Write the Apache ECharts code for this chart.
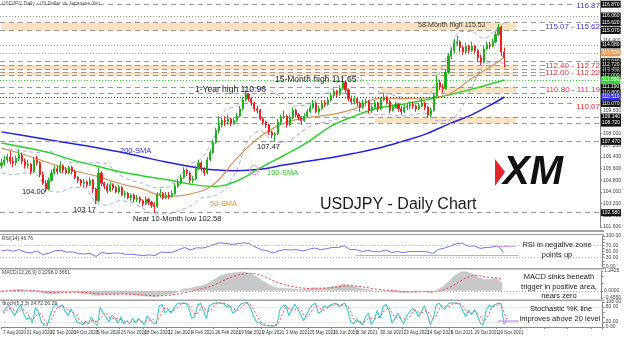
<!DOCTYPE html>
<html><head><meta charset="utf-8">
<script src="https://cdn.jsdelivr.net/npm/echarts@6/dist/echarts.min.js"></script>
<style>html,body{margin:0;padding:0;background:#fff}#c{width:624px;height:338px}</style>
</head><body><div id="c"></div>
<script>
// ---------- DATA (2-trading-day candles, 7 Aug 2020 -> 30 Nov 2021) ----------
const firstOpen = 105.8;
const closes = [
106.0,106.2,106.4,106.1,106.0,106.3,106.5,106.1,105.8,105.9,
105.4,106.2,106.0,105.2,104.6,104.2,104.8,105.3,105.6,105.4,
105.8,105.5,105.3,105.7,105.4,105.0,104.8,104.6,104.7,104.5,
104.8,104.2,103.4,105.3,104.6,104.4,104.1,104.5,104.3,104.0,
104.3,103.8,103.9,103.6,103.8,103.5,103.6,103.4,103.2,103.5,
103.3,103.1,103.0,103.8,103.9,103.6,103.8,103.7,103.9,104.4,
104.6,105.0,105.5,105.3,104.8,104.9,105.6,106.0,105.6,105.3,
106.2,106.7,107.4,108.2,108.6,108.9,108.8,109.0,108.7,108.9,
109.2,109.7,110.3,110.7,110.4,110.1,109.7,109.6,109.0,108.8,
108.6,108.1,107.9,108.0,108.8,109.1,109.2,108.6,109.1,109.6,
109.3,109.1,108.9,109.2,109.5,109.8,110.1,109.5,109.7,110.1,
110.0,110.3,110.6,110.9,110.7,111.1,111.5,111.0,110.4,110.2,
110.4,110.1,109.8,110.1,110.2,109.6,109.8,110.1,109.7,110.3,
110.5,110.2,109.6,109.8,110.0,109.7,109.5,109.8,109.9,110.0,
109.9,109.7,109.9,110.1,109.8,109.3,109.6,110.6,111.5,111.2,
111.1,112.2,113.3,113.7,114.2,114.3,113.9,113.6,114.0,113.7,
114.0,113.7,113.2,112.9,113.8,114.1,114.0,114.3,114.8,115.3,
113.6,113.2];
const highs = [
106.3,106.5,106.6,106.8,106.4,106.5,106.9,106.7,106.3,106.2,
106.0,106.4,106.5,106.1,105.4,104.8,105.0,105.5,105.8,105.8,
106.1,105.9,105.7,105.8,105.8,105.5,105.1,104.9,104.9,104.8,
105.0,104.9,104.3,105.65,105.4,104.7,104.6,104.7,104.6,104.4,
104.5,104.4,104.1,104.0,103.9,103.9,103.8,103.7,103.5,103.7,
103.6,103.4,103.3,104.0,104.2,104.0,104.0,104.0,104.1,104.6,
104.9,105.2,105.7,105.6,105.4,105.1,105.8,106.2,106.1,105.7,
106.4,106.9,107.6,108.4,109.2,109.1,109.2,109.3,109.1,109.1,
109.4,109.9,110.5,110.96,110.8,110.5,110.2,109.9,109.7,109.1,
108.9,108.7,108.2,108.1,109.0,109.3,109.6,109.3,109.3,109.8,
109.7,109.4,109.2,109.4,109.7,110.0,110.3,110.2,109.9,110.3,
110.3,110.5,110.8,111.1,111.0,111.3,111.65,111.6,111.1,110.6,
110.6,110.5,110.2,110.3,110.4,110.3,110.0,110.3,110.2,110.5,
110.8,110.6,110.3,110.0,110.2,110.1,109.9,110.0,110.1,110.2,
110.2,110.0,110.1,110.4,110.2,109.9,109.8,110.8,112.0,111.7,
111.4,112.4,113.5,113.9,114.5,114.7,114.4,114.0,114.2,114.1,
114.3,114.1,113.8,113.4,114.0,114.3,114.3,114.5,115.0,115.52,
115.4,113.9];
const lows = [
105.6,105.8,106.0,105.9,105.7,105.8,106.1,105.9,105.6,105.6,
105.2,105.3,105.8,105.0,104.5,104.0,104.1,104.7,105.2,105.2,
105.3,105.3,105.2,105.2,105.2,104.9,104.6,104.4,104.3,104.3,
104.4,103.9,103.17,103.3,104.4,104.2,103.9,104.0,104.1,103.9,
103.9,103.7,103.6,103.5,103.4,103.3,103.3,103.2,103.0,103.1,
103.1,102.9,102.58,102.9,103.6,103.5,103.5,103.5,103.6,103.8,
104.3,104.5,104.9,105.1,104.6,104.6,104.8,105.5,105.4,105.1,
105.2,106.1,106.6,107.3,108.0,108.4,108.5,108.6,108.5,108.6,
108.8,109.1,109.6,110.2,110.2,109.9,109.5,109.4,108.9,108.6,
108.4,107.9,107.7,107.47,107.9,108.6,109.0,108.4,108.5,109.0,
109.1,108.9,108.6,108.8,109.1,109.4,109.7,109.4,109.3,109.6,
109.8,109.9,110.2,110.5,110.5,110.6,111.0,110.8,110.2,110.0,
110.0,109.9,109.5,109.7,109.9,109.4,109.4,109.7,109.5,109.6,
110.2,110.0,109.4,109.5,109.7,109.5,109.3,109.4,109.6,109.7,
109.7,109.5,109.6,109.8,109.6,109.1,109.1,109.5,110.5,111.0,
110.8,111.0,112.1,113.1,113.5,114.0,113.6,113.4,113.5,113.5,
113.6,113.5,112.9,112.7,112.8,113.7,113.8,113.9,114.2,114.7,
113.3,112.55];

const dateLabels = ['7 Aug 2020','31 Aug 2020','22 Sep 2020','14 Oct 2020','5 Nov 2020','26 Nov 2020',
 '18 Dec 2020','12 Jan 2021','4 Feb 2021','26 Feb 2021','19 Mar 2021','9 Apr 2021','3 May 2021',
 '25 May 2021','16 Jun 2021','8 Jul 2021','30 Jul 2021','23 Aug 2021','14 Sep 2021','6 Oct 2021',
 '29 Oct 2021','19 Nov 2021'];

const smaBars = [0,8,16,24,32,40,48,56,64,72,80,88,96,104,112,120,128,136,144,152,160,168,171];
const sma50  = [107.0,106.55,106.0,105.5,105.1,104.6,104.2,103.7,103.85,104.5,106.3,107.8,108.7,109.1,109.3,109.7,110.4,110.4,110.45,110.7,111.8,112.8,113.25];
const sma100 = [107.36,107.05,106.7,106.2,105.8,105.4,105.1,104.85,104.55,104.37,104.75,105.65,106.5,107.4,108.5,109.2,109.75,110.0,110.3,110.65,111.05,111.5,111.68];
const sma200 = [108.12,107.85,107.58,107.32,107.05,106.75,106.4,106.05,105.75,105.52,105.45,105.55,105.85,106.1,106.35,106.65,107.0,107.45,107.95,108.65,109.3,110.15,110.51];

const bbBars = [0,4,8,12,16,20,24,28,32,36,40,44,48,52,56,60,64,68,72,76,80,84,88,92,96,100,104,108,112,116,120,124,128,132,136,140,144,148,152,156,160,164,168,171];
const bbUpper = [107.0,106.9,106.8,106.7,106.8,106.4,106.0,106.0,106.0,105.9,105.2,104.8,104.6,104.3,104.3,105.0,105.9,106.3,107.6,109.6,109.9,110.9,111.1,110.9,110.4,109.9,110.0,110.4,111.0,111.8,111.9,111.5,110.9,110.7,110.5,110.4,110.3,111.8,113.5,115.0,115.0,114.5,115.1,115.6];
const bbLower = [105.3,105.2,105.3,105.2,104.1,104.0,104.3,104.3,103.3,103.1,103.4,103.3,102.9,102.5,102.5,102.7,103.0,103.6,103.7,104.2,105.5,107.6,108.2,107.5,107.4,107.8,108.4,108.7,108.9,109.1,109.6,109.4,109.3,109.3,109.2,109.3,109.4,108.9,108.9,109.6,111.2,112.7,112.9,112.8];

// indicators sampled every 2 candles
const rsi = [52,55,51,56,48,45,52,40,44,52, 54,48,49,43,42,44,34,47,43,45, 45,41,41,39,37,39,37,48,47,48,
 56,63,55,62,61,66,73,78,76,73, 75,78,75,64,56,52,45,53,56,55, 56,52,57,61,56,59,63,63,68,56,
 56,50,53,50,49,55,47,50,46,50, 50,50,49,44,57,61,68,75,77,67, 68,60,63,64,68,47];
const macdHist = [-0.05,0.02,0.05,0.08,0.03,-0.05,-0.02,-0.15,-0.22,-0.18,
 -0.10,-0.05,-0.05,-0.10,-0.18,-0.20,-0.32,-0.25,-0.25,-0.22,
 -0.20,-0.22,-0.25,-0.28,-0.33,-0.35,-0.38,-0.30,-0.25,-0.20,
 -0.05,0.12,0.15,0.25,0.32,0.45,0.68,0.92,1.05,1.10,
 1.15,1.18,1.12,0.95,0.70,0.48,0.25,0.18,0.15,0.12,
 0.10,0.08,0.12,0.18,0.15,0.18,0.25,0.32,0.42,0.35,
 0.25,0.15,0.10,0.02,-0.05,0.02,-0.05,-0.08,-0.12,-0.10,
 -0.08,-0.05,-0.04,-0.12,0.05,0.30,0.62,0.98,1.20,1.18,
 1.05,0.82,0.70,0.72,0.80,0.45];
const macdSignal = [-0.02,-0.01,0.01,0.03,0.04,0.02,0.0,-0.04,-0.09,-0.13,
 -0.13,-0.11,-0.09,-0.09,-0.11,-0.14,-0.19,-0.21,-0.22,-0.22,
 -0.21,-0.21,-0.22,-0.24,-0.26,-0.29,-0.32,-0.32,-0.30,-0.27,
 -0.20,-0.12,-0.05,0.03,0.12,0.22,0.35,0.52,0.70,0.85,
 0.97,1.06,1.10,1.07,0.97,0.83,0.65,0.50,0.38,0.29,
 0.22,0.17,0.15,0.16,0.16,0.17,0.19,0.23,0.29,0.32,
 0.30,0.26,0.20,0.14,0.08,0.05,0.02,-0.01,-0.05,-0.07,
 -0.08,-0.07,-0.06,-0.07,-0.04,0.05,0.20,0.40,0.64,0.84,
 0.95,0.95,0.88,0.83,0.82,0.70];
// stochastic per candle
const stochK = [60,75,88,62,45,70,88,55,30,38, 15,78,62,20,8,6,45,78,92,75, 90,65,45,72,50,22,15,10,22,15,
 40,18,5,80,55,40,20,48,35,15, 40,12,25,12,35,15,35,20,10,45, 30,15,12,85,90,55,70,55,75,92,
 95,96,95,78,35,40,85,95,65,35, 85,92,96,97,95,92,80,85,55,65, 82,94,97,96,75,45,20,18,8,6,
 5,4,4,12,70,85,88,45,70,92, 72,50,25,50,72,88,95,55,62,85, 78,88,92,95,80,90,95,65,20,12,
 30,20,8,40,55,10,30,65,35,82, 90,65,15,35,55,30,12,45,62,75, 65,40,62,85,50,10,35,88,95,78,
 70,92,97,96,95,92,65,42,68,50, 70,45,15,8,70,88,80,90,95,92, 12,25];
const stochD = [55,62,74,75,65,59,68,71,58,41, 28,44,52,53,30,11,20,43,72,82, 86,77,67,61,56,48,29,16,16,16,
 26,24,21,34,47,58,38,36,34,33, 30,22,26,16,24,21,28,23,22,25, 28,30,19,37,62,77,72,60,67,74,
 87,94,95,90,69,51,53,73,82,65, 62,71,91,95,96,95,89,86,73,68, 67,80,91,96,89,72,47,28,15,11,
 6,5,4,7,29,56,81,73,68,69, 78,71,49,42,49,70,85,79,71,67, 75,84,86,92,89,88,88,83,60,32,
 21,21,19,23,34,35,32,35,43,61, 69,79,57,38,35,40,32,29,40,61, 67,60,56,62,66,48,32,44,73,87,
 81,80,86,95,96,94,84,66,58,53, 63,55,43,23,31,55,79,86,88,94, 60,30];

const dashedLevels = [116.87,115.62,115.07,112.93,112.72,112.40,112.22,112.00,111.19,110.80,110.07,109.14,108.72,107.47,102.58];
const dottedLevels = [116.06,114.08];
const smaLevels = [113.53,111.68,110.51];
const zoneLow  = [115.07,112.40,112.00,110.80,108.72];
const zoneHigh = [115.62,112.72,112.22,111.19,109.14];
const zoneFrom = [0,0,0,129,127];
const zoneTo = 175;
const rsiTrend = [[120,175,38],[168,174,68]];
const stochTrend = [[168,175,27]];
const crossMark = [86,105.5];

// ---------- CHART ----------
const FONT = 'Liberation Sans, Arial, sans-serif';
const NCAT = 204;
const cats = Array.from({length: NCAT}, (_, i) => String(i));
const candles = closes.map((c, i) => [i === 0 ? firstOpen : closes[i - 1], c, lows[i], highs[i]]);
const pairs = (bars, vals) => bars.map((b, j) => [String(b), vals[j]]);
const every2 = vals => vals.map((v, k) => [String(2 * k), v]);
const idxd = vals => vals.map((v, i) => [String(i), v]);

const GRAY = '#9a9a9a';
function lvl(v, color, type) {
  return { yAxis: v, lineStyle: { color: color, type: type, width: 1 },
    label: { show: true, position: 'end', distance: 1, formatter: () => v.toFixed(3),
      backgroundColor: color === GRAY ? '#111' : color, color: '#fff', fontSize: 5, padding: [1, 1], fontFamily: FONT } };
}
const smaColors = ['#e89a58', '#33d633', '#2f2fe8'];

const xAx = i => ({
  type: 'category', gridIndex: i, data: cats, boundaryGap: true,
  axisLine: { show: i === 3, lineStyle: { color: '#888' } },
  axisTick: { show: i === 3, interval: 7, length: 2, lineStyle: { color: '#888' } },
  axisLabel: i === 3 ? { show: true, interval: 7, fontSize: 4.5, color: '#333', margin: 3, align: 'left', fontFamily: FONT,
      formatter: (v, idx) => (idx % 8 === 0 && dateLabels[idx / 8]) ? dateLabels[idx / 8] : '' } : { show: false },
  splitLine: { show: false }
});
const yBase = (i, o) => Object.assign({
  type: 'value', gridIndex: i, position: 'right',
  axisLine: { show: true, lineStyle: { color: '#888' } },
  axisTick: { show: true, length: 2, lineStyle: { color: '#888' } },
  splitLine: { show: false }
}, o);
const lab = f => ({ fontSize: 5, color: '#444', margin: 3, fontFamily: FONT, formatter: f, showMaxLabel: true, showMinLabel: true });
const near = (a, b) => Math.abs(a - b) < 1e-6;

function txt(text, x, y, size, fill, align, extra) {
  return { type: 'text', x: x, y: y, silent: true, z: 100,
    style: Object.assign({ text: text, fill: fill, fontSize: size, fontFamily: FONT, align: align || 'left', verticalAlign: 'middle' }, extra || {}) };
}

const option = {
  animation: false,
  textStyle: { fontFamily: FONT },
  grid: [
    { left: 0, right: 20, top: 0, height: 227 },
    { left: 0, right: 20, top: 236, height: 31 },
    { left: 0, right: 20, top: 271, height: 27 },
    { left: 0, right: 20, top: 302, height: 25 }
  ],
  xAxis: [xAx(0), xAx(1), xAx(2), xAx(3)],
  yAxis: [
    yBase(0, { min: 101.6, max: 117.158, interval: 0.8, axisLabel: Object.assign(lab(v => v.toFixed(3)), { showMaxLabel: false }) }),
    yBase(1, { min: 0, max: 100, interval: 10, axisLabel: lab(v => [0, 30, 50, 70, 100].indexOf(v) >= 0 ? v.toFixed(2) : '') }),
    yBase(2, { min: -0.455, max: 1.2425, interval: 0.455, axisLabel: lab(v => (near(v, 0) || near(v, -0.455) || near(v, 1.2425)) ? v.toFixed(4) : '') }),
    yBase(3, { min: 0, max: 100, interval: 20, axisLabel: lab(v => [0, 20, 80, 100].indexOf(v) >= 0 ? v.toFixed(2) : '') })
  ],
  series: [
    { type: 'line', xAxisIndex: 0, yAxisIndex: 0, data: [], silent: true, z: 1,
      markArea: { silent: true, itemStyle: { color: '#fde1c1' },
        data: zoneLow.map((lo, j) => [{ xAxis: String(zoneFrom[j]), yAxis: lo }, { xAxis: String(zoneTo), yAxis: zoneHigh[j] }]) },
      markLine: { silent: true, symbol: 'none', animation: false,
        data: dashedLevels.map(v => lvl(v, GRAY, [5, 4]))
          .concat(dottedLevels.map(v => lvl(v, GRAY, [1, 2])))
          .concat(smaLevels.map((v, j) => lvl(v, smaColors[j], [1, 2]))) } },
    { type: 'line', xAxisIndex: 0, yAxisIndex: 0, data: pairs(bbBars, bbUpper), smooth: 0.3, symbol: 'none',
      lineStyle: { color: '#a9a9ef', width: 1, type: [4, 3] }, z: 2 },
    { type: 'line', xAxisIndex: 0, yAxisIndex: 0, data: pairs(bbBars, bbLower), smooth: 0.3, symbol: 'none',
      lineStyle: { color: '#a9a9ef', width: 1, type: [4, 3] }, z: 2 },
    { type: 'line', xAxisIndex: 0, yAxisIndex: 0, data: pairs(smaBars, sma200), smooth: 0.4, symbol: 'none',
      lineStyle: { color: '#2323d8', width: 1.5 }, z: 3 },
    { type: 'line', xAxisIndex: 0, yAxisIndex: 0, data: pairs(smaBars, sma100), smooth: 0.4, symbol: 'none',
      lineStyle: { color: '#2ed02e', width: 1.5 }, z: 3,
      markPoint: { silent: true, symbol: 'circle', symbolSize: 9, label: { show: false },
        itemStyle: { color: 'rgba(0,0,0,0)', borderColor: '#e38ae0', borderWidth: 1 },
        data: [{ coord: [String(crossMark[0]), crossMark[1]] }] } },
    { type: 'line', xAxisIndex: 0, yAxisIndex: 0, data: pairs(smaBars, sma50), smooth: 0.4, symbol: 'none',
      lineStyle: { color: '#d69456', width: 1.2 }, z: 3 },
    { type: 'candlestick', xAxisIndex: 0, yAxisIndex: 0, data: candles, barWidth: 1.6, z: 5,
      itemStyle: { color: '#1fae1f', color0: '#e52222', borderColor: '#1fae1f', borderColor0: '#e52222', borderWidth: 1 } },
    // RSI
    { type: 'line', xAxisIndex: 1, yAxisIndex: 1, data: every2(rsi), symbol: 'none',
      lineStyle: { color: '#7373ee', width: 1 },
      markLine: { silent: true, symbol: 'none', label: { show: false },
        data: [{ yAxis: 70, lineStyle: { color: '#c4c4c4', type: [1, 2], width: 1 } }, { yAxis: 30, lineStyle: { color: '#c4c4c4', type: [1, 2], width: 1 } }]
          .concat(rsiTrend.map(t => [{ coord: [String(t[0]), t[2]], lineStyle: { color: '#d99be8', width: 1, type: 'solid' } }, { coord: [String(t[1]), t[2]] }])) } },
    // MACD
    { type: 'line', xAxisIndex: 2, yAxisIndex: 2, data: every2(macdHist), symbol: 'none',
      lineStyle: { color: '#c4c4c4', width: 0.5 }, areaStyle: { color: '#c8c8c8', opacity: 1 },
      markLine: { silent: true, symbol: 'none', label: { show: false },
        data: [{ yAxis: 0, lineStyle: { color: '#aaa', type: [1, 2], width: 1 } }] } },
    { type: 'line', xAxisIndex: 2, yAxisIndex: 2, data: every2(macdSignal), symbol: 'none',
      lineStyle: { color: '#ff3b3b', width: 1, type: [2, 2] } },
    // Stochastic
    { type: 'line', xAxisIndex: 3, yAxisIndex: 3, data: idxd(stochK), symbol: 'none',
      lineStyle: { color: '#3cc9cf', width: 1.1 },
      markLine: { silent: true, symbol: 'none', label: { show: false },
        data: [{ yAxis: 80, lineStyle: { color: '#c4c4c4', type: [1, 2], width: 1 } }, { yAxis: 20, lineStyle: { color: '#c4c4c4', type: [1, 2], width: 1 } }]
          .concat(stochTrend.map(t => [{ coord: [String(t[0]), t[2]], lineStyle: { color: '#d99be8', width: 1.5, type: 'solid' } }, { coord: [String(t[1]), t[2]] }])) } },
    { type: 'line', xAxisIndex: 3, yAxisIndex: 3, data: idxd(stochD), symbol: 'none',
      lineStyle: { color: '#ff4d4d', width: 1, type: [2, 2] } }
  ],
  graphic: [
    { type: 'rect', silent: true, shape: { x: 0, y: 230, width: 604, height: 2 }, style: { fill: '#a0a0a0' } },
    { type: 'rect', silent: true, shape: { x: 0, y: 234, width: 604, height: 1 }, style: { fill: '#a0a0a0' } },
    { type: 'rect', silent: true, shape: { x: 0, y: 268, width: 604, height: 1.5 }, style: { fill: '#a0a0a0' } },
    { type: 'rect', silent: true, shape: { x: 0, y: 299.5, width: 604, height: 1.5 }, style: { fill: '#a0a0a0' } },
    txt('USDJPY, Daily - US Dollar vs Japanese Yen', 2, 4, 5, '#555'),
    txt('RSI(14) 46.76', 2, 239, 5, '#444'),
    txt('MACD(12,26,9) 0.2298 0.3651', 2, 272.5, 5, '#444'),
    txt('Stoch(5,3,3) 24.72 26.29', 2, 304, 5, '#444'),
    txt('58-Month high 115.52', 418, 25, 7, '#333'),
    txt('15-Month high 111.65', 275, 80, 8.5, '#222'),
    txt('1-Year high 110.96', 195, 90, 8.5, '#222'),
    txt('107.47', 257, 147, 7.5, '#222'),
    txt('104.00', 22, 192, 7.5, '#222'),
    txt('103.17', 73, 210, 7.5, '#222'),
    txt('Near 10-Month low 102.58', 133, 219, 7.5, '#222'),
    txt('200-SMA', 120, 151, 7.5, '#2b2bd6'),
    txt('100-SMA', 267, 173, 7.5, '#2fbf2f'),
    txt('50-SMA', 210, 204, 7.5, '#d4904c'),
    txt('116.87', 600, 6, 8, '#3a3ad8', 'right', { backgroundColor: '#fff' }),
    txt('115.07 - 115.62', 600, 27, 8, '#3a3ad8', 'right', { backgroundColor: '#fff' }),
    txt('112.40 - 112.72', 600, 66, 8, '#e83030', 'right', { backgroundColor: '#fff' }),
    txt('112.00 - 112.22', 600, 73, 8, '#e83030', 'right', { backgroundColor: '#fff' }),
    txt('110.80 - 111.19', 600, 90, 8, '#e83030', 'right', { backgroundColor: '#fff' }),
    txt('110.07', 600, 107, 8, '#e83030', 'right', { backgroundColor: '#fff' }),
    txt('USDJPY - Daily Chart', 320, 205, 16, '#1a1a1a'),
    { type: 'polygon', silent: true, z: 100, shape: { points: [[495, 159], [505, 172], [495, 186]] }, style: { fill: '#e8242b' } },
    txt('XM', 503, 173, 40, '#111', 'left', { fontWeight: 900, fontStyle: 'italic' }),
    txt('RSI in negative zone', 557, 245, 7.5, '#222', 'center'),
    txt('points up', 557, 255, 7.5, '#222', 'center'),
    txt('MACD sinks beneath', 559, 277, 7.5, '#222', 'center'),
    txt('trigger in positive area,', 559, 287, 7.5, '#222', 'center'),
    txt('nears zero', 559, 296, 7.5, '#222', 'center'),
    txt('Stochastic %K line', 561, 309, 7.5, '#222', 'center'),
    txt('improves above 20 level', 560, 319, 7.5, '#222', 'center')
  ]
};
const chart = echarts.init(document.getElementById('c'));
chart.setOption(option);
</script>
</body></html>
